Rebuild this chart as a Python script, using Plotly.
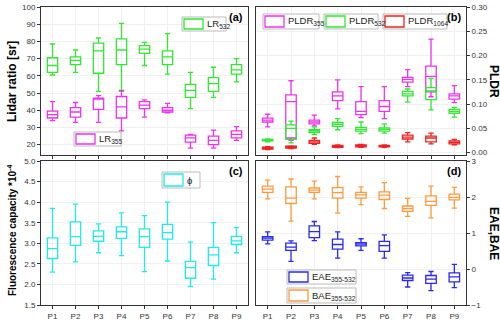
import plotly.graph_objects as go

sites = ['P1', 'P2', 'P3', 'P4', 'P5', 'P6', 'P7', 'P8', 'P9']

# (a) lidar ratio [sr]: low whisker, q1, median, q3, high whisker
lr532_lo = [60.5, 62, 51, 51, 66, 61, 41, 47.5, 56.5]
lr532_q1 = [62, 66.5, 61.5, 66.5, 73, 66.5, 47.5, 51, 61]
lr532_md = [66, 69, 74.5, 75, 75.5, 71, 51.5, 55.5, 63.5]
lr532_q3 = [70.5, 71, 79, 81.5, 77.5, 74.5, 55, 59, 66.5]
lr532_hi = [78.5, 75, 82, 90.5, 79.5, 84.5, 62, 65, 70]

lr355_lo = [34, 33, 33, 28, 36, 38.5, 18, 18, 22.5]
lr355_q1 = [35.5, 36, 40.5, 35.5, 41, 39, 21.5, 20, 24]
lr355_md = [37.5, 39, 46.5, 42, 43, 40, 24, 22.5, 26]
lr355_q3 = [39.5, 41.5, 47, 48, 45, 41.5, 25.5, 25, 28]
lr355_hi = [45, 44.5, 48.5, 51.5, 46, 44, 26, 28.5, 30.5]

# (b) PLDR
p355_lo = [0.053, 0.025, 0.055, 0.090, 0.072, 0.070, 0.136, 0.115, 0.103]
p355_q1 = [0.063, 0.030, 0.059, 0.107, 0.078, 0.085, 0.145, 0.125, 0.110]
p355_md = [0.067, 0.105, 0.063, 0.117, 0.085, 0.095, 0.151, 0.157, 0.117]
p355_q3 = [0.071, 0.119, 0.067, 0.125, 0.105, 0.107, 0.155, 0.178, 0.121]
p355_hi = [0.079, 0.148, 0.077, 0.150, 0.136, 0.136, 0.171, 0.234, 0.138]

p532_lo = [0.022, 0.020, 0.037, 0.047, 0.039, 0.040, 0.104, 0.088, 0.073]
p532_q1 = [0.024, 0.027, 0.041, 0.054, 0.044, 0.044, 0.117, 0.109, 0.081]
p532_md = [0.026, 0.050, 0.044, 0.058, 0.048, 0.048, 0.121, 0.127, 0.085]
p532_q3 = [0.027, 0.057, 0.047, 0.062, 0.052, 0.051, 0.126, 0.134, 0.089]
p532_hi = [0.028, 0.065, 0.053, 0.070, 0.063, 0.059, 0.131, 0.153, 0.093]

p1064_lo = [0.006, 0.008, 0.017, 0.010, 0.011, 0.011, 0.022, 0.018, 0.016]
p1064_q1 = [0.007, 0.009, 0.019, 0.011, 0.012, 0.012, 0.028, 0.022, 0.018]
p1064_md = [0.009, 0.011, 0.022, 0.013, 0.014, 0.013, 0.032, 0.030, 0.021]
p1064_q3 = [0.011, 0.013, 0.025, 0.015, 0.016, 0.015, 0.036, 0.034, 0.024]
p1064_hi = [0.012, 0.014, 0.030, 0.016, 0.017, 0.016, 0.041, 0.040, 0.027]

# (c) fluorescence capacity *1e-4
phi_lo = [2.30, 2.55, 2.77, 2.70, 2.31, 2.57, 1.95, 2.13, 2.77]
phi_q1 = [2.63, 2.95, 3.05, 3.12, 2.90, 3.10, 2.15, 2.46, 2.97]
phi_md = [2.87, 3.16, 3.17, 3.28, 3.16, 3.26, 2.41, 2.72, 3.06]
phi_q3 = [3.13, 3.52, 3.30, 3.40, 3.35, 3.46, 2.56, 2.90, 3.17]
phi_hi = [3.85, 3.95, 3.47, 3.74, 3.67, 4.00, 3.03, 3.50, 3.38]

# (d) Angstrom exponents
bae_lo = [1.95, 1.33, 1.95, 1.55, 1.79, 1.68, 1.46, 1.42, 1.69]
bae_q1 = [2.13, 1.82, 2.13, 1.97, 1.97, 1.93, 1.60, 1.77, 1.92]
bae_md = [2.22, 1.97, 2.19, 2.12, 2.06, 2.05, 1.68, 1.88, 1.99]
bae_q3 = [2.30, 2.28, 2.25, 2.26, 2.13, 2.14, 1.75, 2.03, 2.08]
bae_hi = [2.47, 2.50, 2.44, 2.57, 2.28, 2.40, 1.96, 2.30, 2.27]

eae_lo = [0.70, 0.21, 0.79, 0.30, 0.52, 0.30, -0.50, -0.60, -0.52]
eae_q1 = [0.80, 0.52, 0.87, 0.55, 0.64, 0.49, -0.32, -0.40, -0.36]
eae_md = [0.86, 0.61, 1.04, 0.68, 0.69, 0.65, -0.25, -0.28, -0.22]
eae_q3 = [0.90, 0.72, 1.20, 0.83, 0.73, 0.77, -0.17, -0.18, -0.11]
eae_hi = [1.03, 0.78, 1.32, 1.03, 0.84, 0.95, -0.10, -0.07, 0.13]

GREEN = '#33e833'
MAGENTA = '#ee33ee'
RED = '#ee2222'
CYAN = '#22eaea'
BLUE = '#2a2aee'
ORANGE = '#ff9a40'

fig = go.Figure()


def addbox(name, lo, q1, md, q3, hi, color, xa, ya):
    fig.add_trace(go.Box(x=sites, lowerfence=lo, q1=q1, median=md, q3=q3, upperfence=hi,
                         name=name, line=dict(color=color, width=1.3),
                         fillcolor='rgba(255,255,255,0)', width=0.45,
                         xaxis=xa, yaxis=ya, showlegend=False, boxpoints=False))


addbox('LR532', lr532_lo, lr532_q1, lr532_md, lr532_q3, lr532_hi, GREEN, 'x', 'y')
addbox('LR355', lr355_lo, lr355_q1, lr355_md, lr355_q3, lr355_hi, MAGENTA, 'x', 'y')
addbox('PLDR355', p355_lo, p355_q1, p355_md, p355_q3, p355_hi, MAGENTA, 'x2', 'y2')
addbox('PLDR532', p532_lo, p532_q1, p532_md, p532_q3, p532_hi, GREEN, 'x2', 'y2')
addbox('PLDR1064', p1064_lo, p1064_q1, p1064_md, p1064_q3, p1064_hi, RED, 'x2', 'y2')
addbox('phi', phi_lo, phi_q1, phi_md, phi_q3, phi_hi, CYAN, 'x3', 'y3')
addbox('EAE', eae_lo, eae_q1, eae_md, eae_q3, eae_hi, BLUE, 'x4', 'y4')
addbox('BAE', bae_lo, bae_q1, bae_md, bae_q3, bae_hi, ORANGE, 'x4', 'y4')

fnt = dict(family='Liberation Sans, Arial', size=8, color='#333333')
xcom = dict(type='category', range=[-0.5, 8.5], showline=True, linecolor='#333333', linewidth=1,
            mirror=True, ticks='outside', ticklen=3, tickcolor='#333333',
            showgrid=True, gridcolor='#f0f0f0', tickfont=fnt, zeroline=False)
ycom = dict(showline=True, linecolor='#333333', linewidth=1, mirror=True, ticks='outside',
            ticklen=3, tickcolor='#333333', showgrid=True, gridcolor='#f0f0f0',
            tickfont=fnt, zeroline=False)

# plot area in pixels: x 41..466, y 7..305
L, R, T, B = 41, 466, 7, 305


def px(x):
    return (x - L) / (R - L)


def py(y):
    return (B - y) / (B - T)


left = [0, px(248)]
right = [px(256), 1]
top = [py(155), 1]
bot = [0, py(161)]

fig.update_layout(
    xaxis=dict(xcom, domain=left, anchor='y', showticklabels=False),
    xaxis2=dict(xcom, domain=right, anchor='y2', showticklabels=False),
    xaxis3=dict(xcom, domain=left, anchor='y3'),
    xaxis4=dict(xcom, domain=right, anchor='y4'),
    yaxis=dict(ycom, domain=top, anchor='x', range=[14, 100], dtick=10),
    yaxis2=dict(ycom, domain=top, anchor='x2', range=[-0.005, 0.30], dtick=0.05,
                side='right', tickformat='.2f'),
    yaxis3=dict(ycom, domain=bot, anchor='x3', range=[1.5, 5.0], dtick=0.5, tickformat='.1f'),
    yaxis4=dict(ycom, domain=bot, anchor='x4', range=[-1, 3], dtick=1, side='right'),
)

# hand-drawn legend boxes: (label, color, outer x0, x1, y0, y1)
legends = [
    ('LR<sub>532</sub>', GREEN, 182, 226, 17, 31),
    ('LR<sub>355</sub>', MAGENTA, 74, 121, 132, 146),
    ('PLDR<sub>355</sub>', MAGENTA, 263, 319, 14, 29),
    ('PLDR<sub>532</sub>', GREEN, 324, 378, 14, 29),
    ('PLDR<sub>1064</sub>', RED, 383, 447, 14, 29),
    ('\u03d5', CYAN, 162, 200, 172, 188),
    ('EAE<sub>355-532</sub>', BLUE, 287, 356, 270, 284),
    ('BAE<sub>355-532</sub>', ORANGE, 287, 356, 288, 303),
]

shapes = []
ann = []
lfont = dict(family='Liberation Sans, Arial', size=9.5, color='#222222')
for label, col, x0, x1, y0, y1 in legends:
    shapes.append(dict(type='rect', xref='paper', yref='paper', x0=px(x0), x1=px(x1),
                       y0=py(y1), y1=py(y0), line=dict(color='#bbbbbb', width=1),
                       fillcolor='rgba(255,255,255,0.9)'))
    shapes.append(dict(type='rect', xref='paper', yref='paper', x0=px(x0 + 2), x1=px(x0 + 21),
                       y0=py(y1 - 2), y1=py(y0 + 2), line=dict(color=col, width=1.3),
                       fillcolor='rgba(255,255,255,0)'))
    ann.append(dict(text=label, x=px(x0 + 23), y=py((y0 + y1) / 2), xanchor='left',
                    yanchor='middle', font=lfont))

tfont = dict(family='Liberation Sans, Arial', size=12, color='black')
pfont = dict(family='Liberation Sans, Arial', size=11, color='black')
ann += [
    dict(text='<b>Lidar ratio [sr]</b>', x=px(12), y=py(82), textangle=-90, font=tfont),
    dict(text='<b>Fluorescence capacity *10<sup>-4</sup></b>', x=px(12), y=py(231), textangle=-90,
         font=dict(tfont, size=10)),
    dict(text='<b>PLDR</b>', x=px(494), y=py(81), textangle=90, font=tfont),
    dict(text='<b>EAE,BAE</b>', x=px(494), y=py(233), textangle=90, font=tfont),
]
for a in ann[-4:]:
    a.update(xanchor='center', yanchor='middle')
ann += [
    dict(text='<b>(a)</b>', x=px(245), y=py(9), xanchor='right', yanchor='top', font=pfont),
    dict(text='<b>(b)</b>', x=px(463), y=py(9), xanchor='right', yanchor='top', font=pfont),
    dict(text='<b>(c)</b>', x=px(245), y=py(163), xanchor='right', yanchor='top', font=pfont),
    dict(text='<b>(d)</b>', x=px(463), y=py(163), xanchor='right', yanchor='top', font=pfont),
]
for a in ann:
    a.update(xref='paper', yref='paper', showarrow=False)

fig.update_layout(
    annotations=ann,
    shapes=shapes,
    boxmode='overlay',
    showlegend=False,
    width=500, height=321,
    margin=dict(l=L, r=500 - R, t=T, b=321 - B, autoexpand=False),
    paper_bgcolor='white', plot_bgcolor='white',
    font=fnt,
)

# drop the default page margin so the figure sits at the window's corner
fig.write_html('out.html', config={'displayModeBar': False},
               post_script="document.body.style.margin='0';")
